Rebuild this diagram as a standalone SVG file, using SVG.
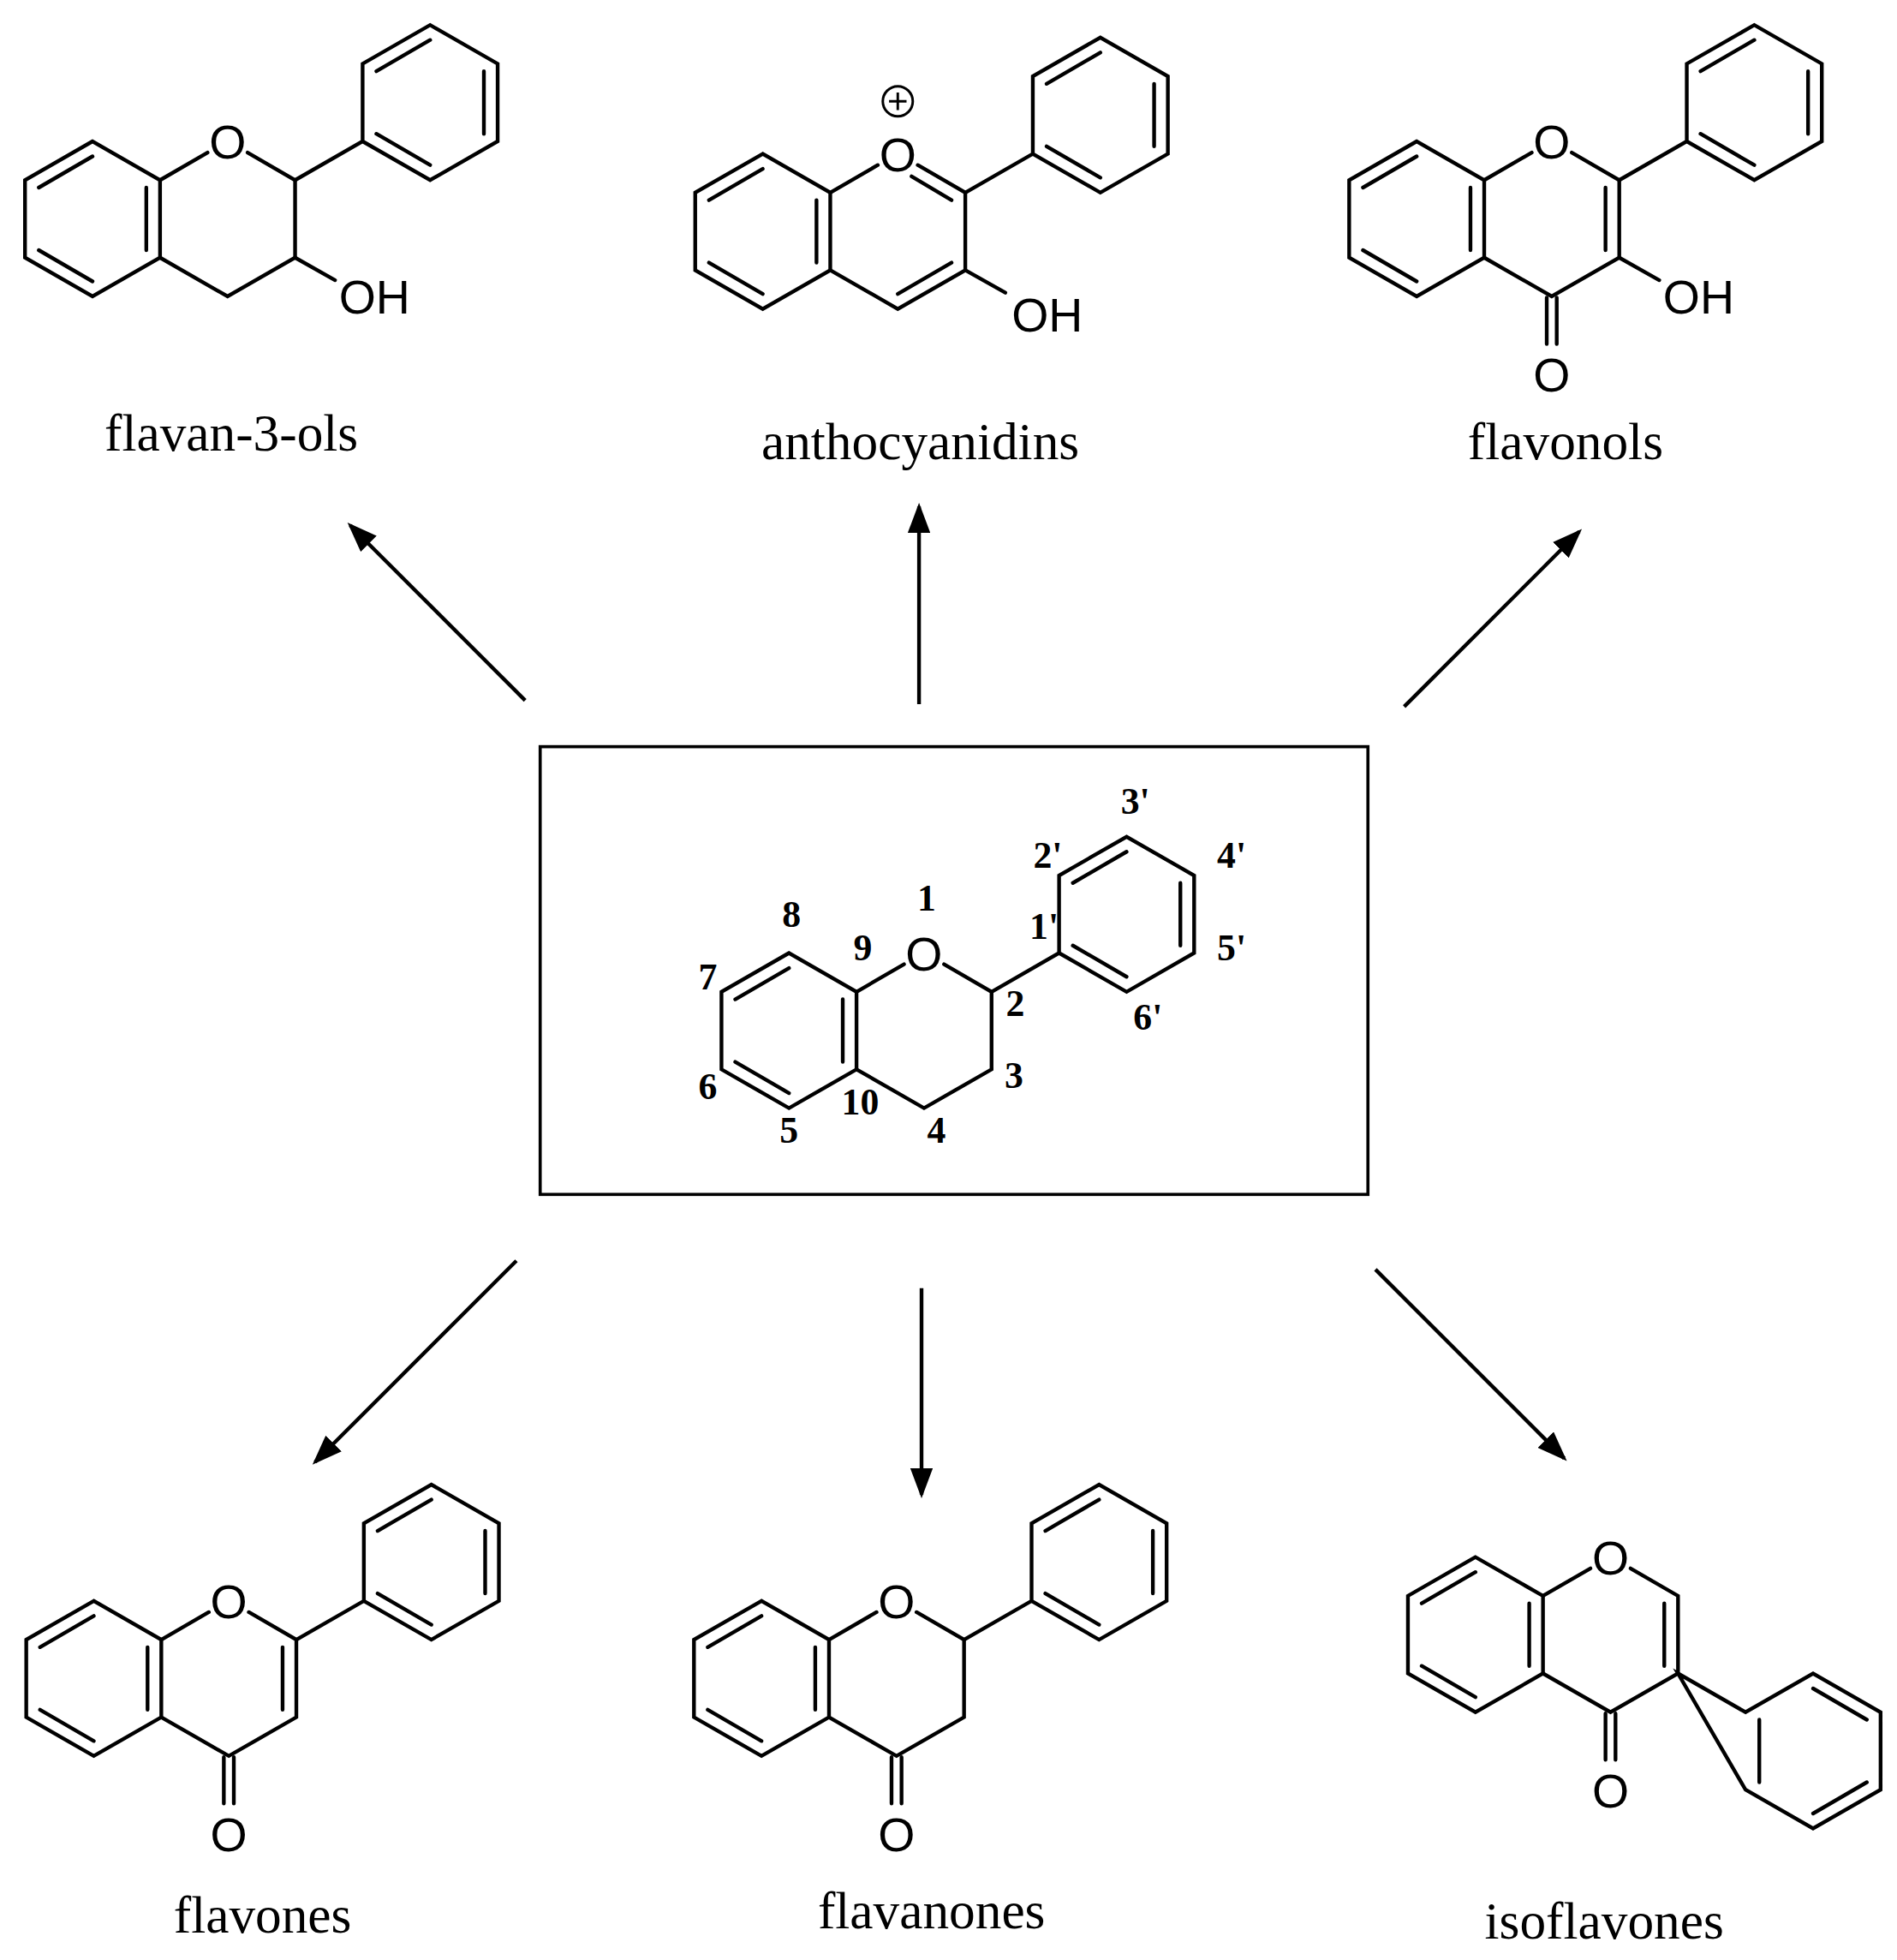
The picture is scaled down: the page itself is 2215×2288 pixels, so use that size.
<svg xmlns="http://www.w3.org/2000/svg" xmlns:xlink="http://www.w3.org/1999/xlink" width="2215" height="2288" viewBox="0 0 2215 2288">
<style>
.b{fill:none;stroke:#000;stroke-width:3;stroke-linecap:round;stroke-linejoin:miter}
.at{font-family:"Liberation Sans",Arial,sans-serif;font-size:38px;fill:#000}
.lab{font-family:"Liberation Serif","Times New Roman",serif;font-size:30px;font-weight:bold;fill:#000;text-anchor:middle}
.ttl{font-family:"Liberation Serif","Times New Roman",serif;font-size:42px;fill:#000;text-anchor:middle}
.ar{fill:none;stroke:#000;stroke-width:3}
</style>
<defs>
<marker id="ah" markerWidth="8" markerHeight="6" refX="7" refY="3" orient="auto" markerUnits="strokeWidth"><path d="M0,0 L8,3 L0,6 Z" fill="#000"/></marker>
<g id="ringA"><path class="b" d="M0,-62 L-54,-31 L-54,31 L0,62 L54,31 L54,-31 Z M0,-50 L-43,-25 M-43,25 L0,50 M43,25 L43,-25"/></g>
<g id="ringO"><path class="b" d="M54,-31 L92,-53 M124,-53 L162,-31 L162,31 L108,62 L54,31"/><text class="at" x="108" y="-48" text-anchor="middle">O</text></g>
<g id="ph2"><path class="b" d="M162,-31 L216,-62 L216,-124 L270,-155 L324,-124 L324,-62 L270,-31 L216,-62 M227,-118 L270,-143 M313,-118 L313,-68 M270,-43 L227,-68"/></g>
<g id="carb"><path class="b" d="M104,63 L104,100 M112,63 L112,100"/><text class="at" x="108" y="138" text-anchor="middle">O</text></g>
</defs>
<g transform="scale(1.46)">
<g id="flavan-3-ols" transform="translate(74,175)">
<use xlink:href="#ringA"/><use xlink:href="#ringO"/><use xlink:href="#ph2"/>
<path class="b" d="M162,31 L194,49"/><text class="at" x="197" y="76">OH</text>
<text class="ttl" x="111" y="185">flavan-3-ols</text>
</g>
<g id="anthocyanidins" transform="translate(610,185)">
<use xlink:href="#ringA"/><use xlink:href="#ringO"/><use xlink:href="#ph2"/>
<path class="b" d="M119,-44 L151,-25 M151,25 L108,50 M162,31 L194,49"/>
<text class="at" x="199" y="80">OH</text>
<circle cx="108" cy="-104" r="12" fill="none" stroke="#000" stroke-width="2"/>
<path d="M101,-104 L115,-104 M108,-111 L108,-97" stroke="#000" stroke-width="2"/>
<text class="ttl" x="126" y="182">anthocyanidins</text>
</g>
<g id="flavonols" transform="translate(1133,175)">
<use xlink:href="#ringA"/><use xlink:href="#ringO"/><use xlink:href="#ph2"/><use xlink:href="#carb"/>
<path class="b" d="M151,-25 L151,25 M162,31 L194,49"/><text class="at" x="197" y="76">OH</text>
<text class="ttl" x="119" y="192">flavonols</text>
</g>
<g id="flavones" transform="translate(75,1342)">
<use xlink:href="#ringA"/><use xlink:href="#ringO"/><use xlink:href="#ph2"/><use xlink:href="#carb"/>
<path class="b" d="M151,-25 L151,25"/>
<text class="ttl" x="135" y="203">flavones</text>
</g>
<g id="flavanones" transform="translate(609,1342)">
<use xlink:href="#ringA"/><use xlink:href="#ringO"/><use xlink:href="#ph2"/><use xlink:href="#carb"/>
<text class="ttl" x="136" y="200">flavanones</text>
</g>
<g id="isoflavones" transform="translate(1180,1307)">
<use xlink:href="#ringA"/><use xlink:href="#ringO"/><use xlink:href="#carb"/>
<path class="b" d="M151,-25 L151,25 M162,31 L216,62 L270,31 L324,62 L324,124 L270,155 L216,124 Z M270,43 L313,68 M227,68 L227,118 M313,118 L270,143"/>
<text class="ttl" x="103" y="243">isoflavones</text>
</g>
<g id="flavan-core">
<rect x="432" y="597" width="662" height="358" fill="none" stroke="#000" stroke-width="2.5"/>
<g transform="translate(631,824)">
<use xlink:href="#ringA"/><use xlink:href="#ringO"/><use xlink:href="#ph2"/>
</g>
<text class="lab" x="741" y="728">1</text>
<text class="lab" x="812" y="812">2</text>
<text class="lab" x="811" y="870">3</text>
<text class="lab" x="749" y="914">4</text>
<text class="lab" x="631" y="914">5</text>
<text class="lab" x="566" y="879">6</text>
<text class="lab" x="566" y="791">7</text>
<text class="lab" x="633" y="741">8</text>
<text class="lab" x="690" y="768">9</text>
<text class="lab" x="688" y="891">10</text>
<text class="lab" x="835" y="751">1'</text>
<text class="lab" x="838" y="694">2'</text>
<text class="lab" x="908" y="651">3'</text>
<text class="lab" x="985" y="694">4'</text>
<text class="lab" x="985" y="768">5'</text>
<text class="lab" x="918" y="823">6'</text>
</g>
<g id="connectors">
<line class="ar" x1="420" y1="560" x2="280" y2="420" marker-end="url(#ah)"/>
<line class="ar" x1="735" y1="563" x2="735" y2="405" marker-end="url(#ah)"/>
<line class="ar" x1="1123" y1="565" x2="1263" y2="425" marker-end="url(#ah)"/>
<line class="ar" x1="413" y1="1008" x2="252" y2="1169" marker-end="url(#ah)"/>
<line class="ar" x1="737" y1="1030" x2="737" y2="1195" marker-end="url(#ah)"/>
<line class="ar" x1="1100" y1="1015" x2="1251" y2="1166" marker-end="url(#ah)"/>
</g>
</g>
</svg>
